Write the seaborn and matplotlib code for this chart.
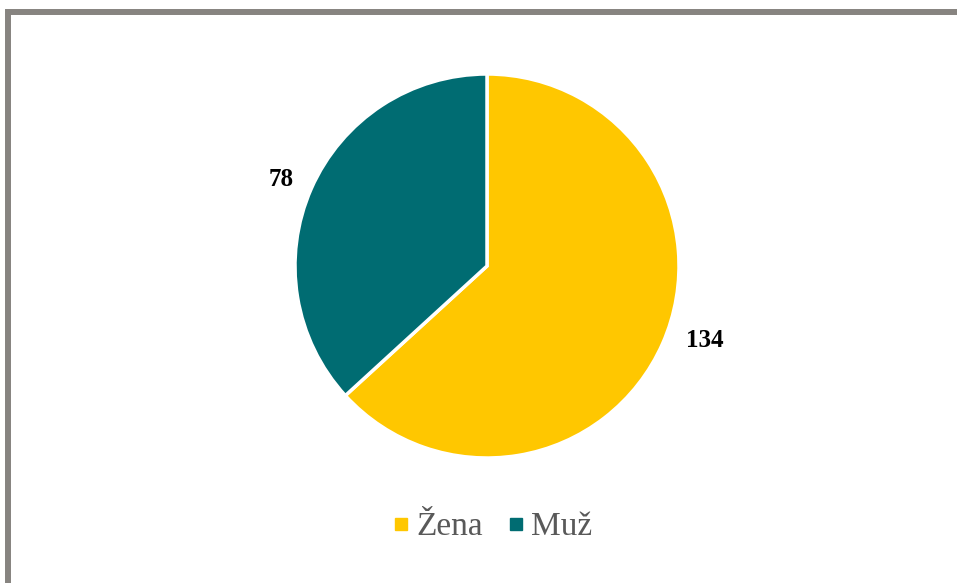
import matplotlib
matplotlib.use("Agg")
import numpy as np
import matplotlib.pyplot as plt
import seaborn as sns
from matplotlib.lines import Line2D
from matplotlib.patches import Rectangle

# data
categories = ["Žena", "Muž"]
counts = [134, 78]
colors = ["#FFC700", "#006C72"]

# label placement tweaks (Excel "best fit" style): radial distance, angle shift in degrees
label_dist = [1.20, 1.16]
label_shift = [5.0, 1.0]

sns.set_theme(style="white")
plt.rcParams["font.family"] = ["Liberation Serif", "DejaVu Serif"]

W, H = 957, 583
fig = plt.figure(figsize=(W / 100, H / 100), dpi=100)

# pie axes: centre ~ (487, 266) px, radius ~ 192 px
cx, cy, r = 487, 266, 192
ax = fig.add_axes([(cx - r) / W, (H - cy - r) / H, 2 * r / W, 2 * r / H])
wedges, _ = ax.pie(
    counts,
    colors=colors,
    startangle=90,
    counterclock=False,
    wedgeprops=dict(edgecolor="white", linewidth=2.5),
)
for w, n, d, s in zip(wedges, counts, label_dist, label_shift):
    ang = np.deg2rad((w.theta1 + w.theta2) / 2 + s)
    ax.text(d * np.cos(ang), d * np.sin(ang), str(n), ha="center", va="center",
            fontsize=18, fontweight="bold", color="black")
ax.set_aspect("equal")
ax.set_xlim(-1, 1)
ax.set_ylim(-1, 1)
ax.axis("off")

# legend
handles = [Line2D([0], [0], marker="s", linestyle="", markersize=9,
                  markerfacecolor=c, markeredgecolor=c) for c in colors]
fig.legend(handles, categories, loc="center", bbox_to_anchor=((cx + 5) / W, 1 - 527 / H),
           ncol=2, frameon=False, fontsize=24, handletextpad=0.15,
           columnspacing=0.7, labelcolor="#595959", handlelength=0.6)

# chart border (runs off the right and bottom edges)
fig.patches.append(Rectangle((8, H - 12 - 700), 1000, 700, transform=None,
                             fill=False, edgecolor="#878480", linewidth=4.3))

fig.savefig("out.png", dpi=100, facecolor="white")
